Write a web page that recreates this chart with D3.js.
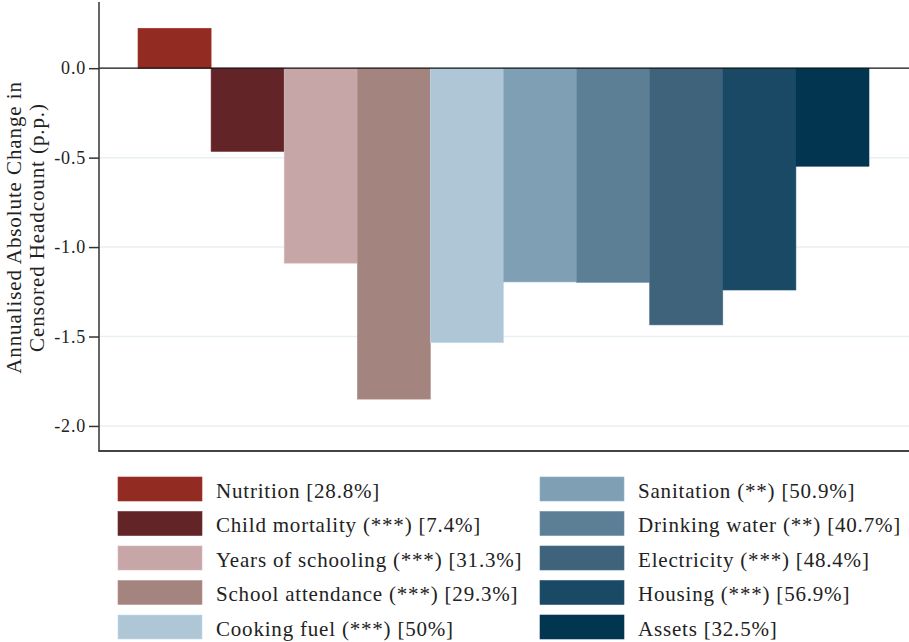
<!DOCTYPE html>
<html><head><meta charset="utf-8">
<script src="https://cdn.jsdelivr.net/npm/d3@7"></script>
<style>body{margin:0;background:#fff}svg{display:block}</style>
</head><body><svg id="c" width="909" height="642"></svg>
<script>
const categories = ["Nutrition","Child mortality","Years of schooling","School attendance","Cooking fuel","Sanitation","Drinking water","Electricity","Housing","Assets"];
const legendLabels = ["Nutrition [28.8%]","Child mortality (***) [7.4%]","Years of schooling (***) [31.3%]","School attendance (***) [29.3%]","Cooking fuel (***) [50%]","Sanitation (**) [50.9%]","Drinking water (**) [40.7%]","Electricity (***) [48.4%]","Housing (***) [56.9%]","Assets [32.5%]"];
const values = [0.223, -0.465, -1.09, -1.85, -1.535, -1.195, -1.197, -1.435, -1.24, -0.548];
const colors = ["#922b21","#632427","#c6a6a7","#a3847e","#aec6d6","#7f9fb4","#5d7f96","#40637c","#1a4966","#02354f"];
const yTicks = [0, -0.5, -1.0, -1.5, -2.0];

const svg = d3.select("#c");
const font = "'Liberation Serif', 'DejaVu Serif', serif";
const L = 99, R = 909, T = 2, B = 451;
const y = d3.scaleLinear().domain([-2.14, 0.37]).range([B, T]);
const x = d3.scaleBand().domain(categories).range([L + 39, R - 40]).padding(0);

// gridlines
svg.append("g").selectAll("line").data(yTicks.filter(d => d !== 0)).join("line")
  .attr("x1", L).attr("x2", R).attr("y1", d => y(d)).attr("y2", d => y(d))
  .attr("stroke", "#e8f0f3").attr("stroke-width", 1.5);

// bars
svg.append("g").selectAll("rect").data(values).join("rect")
  .attr("x", (d, i) => x(categories[i]))
  .attr("y", d => y(Math.max(0, d)))
  .attr("width", x.bandwidth())
  .attr("height", d => Math.abs(y(d) - y(0)))
  .attr("fill", (d, i) => colors[i])
  .attr("stroke", (d, i) => d3.color(colors[i]).brighter(0.3))
  .attr("stroke-width", 0.6);

// zero line
svg.append("line").attr("x1", L).attr("x2", R).attr("y1", y(0)).attr("y2", y(0))
  .attr("stroke", "#111").attr("stroke-width", 1.3);

// y axis
const yAxis = d3.axisLeft(y).tickValues(yTicks).tickFormat(d3.format(".1f")).tickSize(10).tickPadding(3);
const ga = svg.append("g").attr("transform", `translate(${L},0)`).call(yAxis);
ga.select(".domain").attr("d", `M0,${T}V${B}`).attr("stroke", "#333").attr("stroke-width", 1.5);
ga.selectAll(".tick line").attr("stroke", "#333").attr("stroke-width", 1.5);
ga.selectAll(".tick text").attr("font-family", font).attr("font-size", 18).attr("letter-spacing", 0.8).attr("fill", "#222")
  .text(d => d3.format(".1f")(d).replace("−", "-"));

// bottom line
svg.append("line").attr("x1", L - 0.75).attr("x2", R).attr("y1", B).attr("y2", B)
  .attr("stroke", "#444").attr("stroke-width", 2);

// y label
const yl = svg.append("text").attr("transform", `translate(0,${(T + B) / 2 + 1}) rotate(-90)`)
  .attr("text-anchor", "middle").attr("font-family", font).attr("font-size", 21).attr("letter-spacing", 0.9).attr("fill", "#222");
yl.append("tspan").attr("x", 0).attr("y", 21).text("Annualised Absolute Change in");
yl.append("tspan").attr("x", 0).attr("y", 44).text("Censored Headcount (p.p.)");

// legend
const lg = svg.append("g").selectAll("g").data(legendLabels).join("g")
  .attr("transform", (d, i) => `translate(${i < 5 ? 118 : 540},${477 + (i % 5) * 34.5})`);
lg.append("rect").attr("width", 84).attr("height", 24)
  .attr("fill", (d, i) => colors[i])
  .attr("stroke", (d, i) => d3.color(colors[i]).brighter(0.3)).attr("stroke-width", 0.6);
lg.append("text").attr("x", 98).attr("y", 20.5).attr("font-family", font).attr("font-size", 21).attr("letter-spacing", 0.8)
  .attr("fill", "#222").text(d => d);
</script></body></html>
